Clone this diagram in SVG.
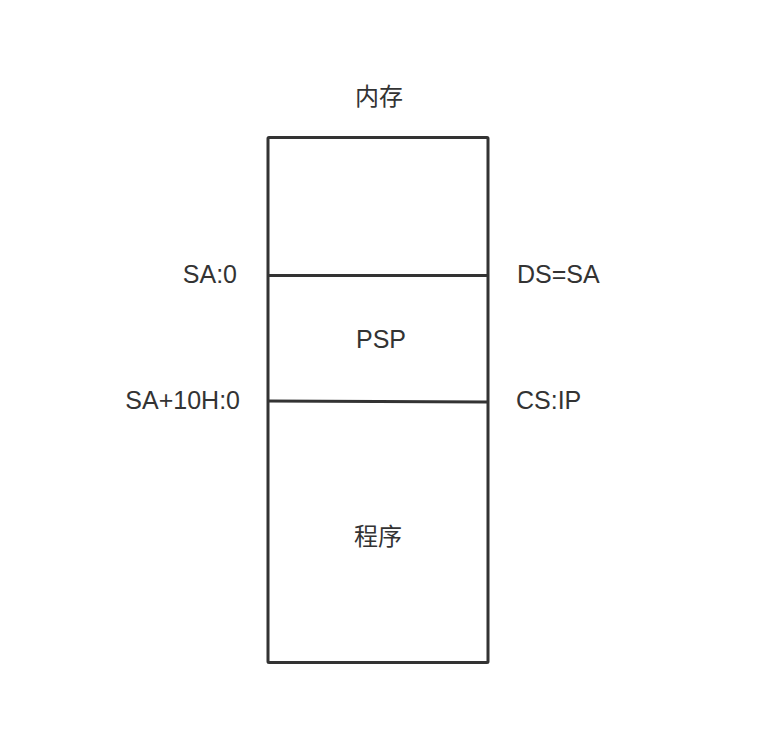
<svg xmlns="http://www.w3.org/2000/svg" width="780" height="750" viewBox="0 0 780 750">
<style>
.box{fill:none;stroke:#333;stroke-width:3;stroke-linejoin:round}
.ln{stroke:#333;stroke-width:3;fill:none}
.t{font-family:"Liberation Sans","Noto Sans CJK SC",sans-serif;font-size:25px;fill:#333}
.c{font-family:"Noto Sans CJK SC","Liberation Sans",sans-serif;font-size:24px;fill:#333}
</style>
<rect width="780" height="750" fill="#fff"/>
<g id="title"><text class="c" x="379" y="105" text-anchor="middle">内存</text></g>
<g id="memory">
<rect class="box" x="268" y="137.5" width="220" height="525" rx="1"/>
</g>
<g id="connectors">
<line class="ln" x1="268" y1="275.5" x2="488" y2="275.5"/>
<line class="ln" x1="268" y1="401" x2="488" y2="402"/>
</g>
<g id="psp"><text class="t" x="381" y="348" text-anchor="middle">PSP</text></g>
<g id="program"><text class="c" x="378" y="545" text-anchor="middle">程序</text></g>
<g id="labels">
<text class="t" x="237" y="283" text-anchor="end">SA:0</text>
<text class="t" x="517" y="283">DS=SA</text>
<text class="t" x="240" y="409" text-anchor="end">SA+10H:0</text>
<text class="t" x="516" y="409">CS:IP</text>
</g>
</svg>
